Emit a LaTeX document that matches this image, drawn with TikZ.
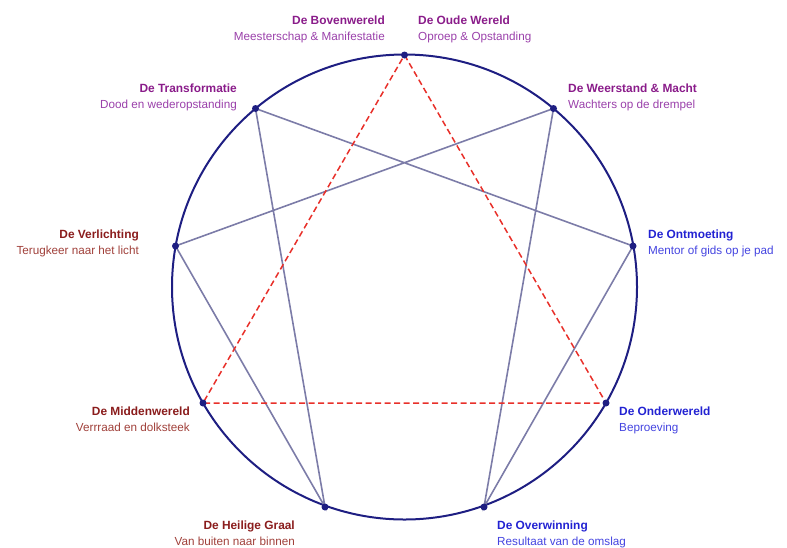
\documentclass[tikz,border=0pt]{standalone}
\usepackage{fontspec}
\setmainfont{Liberation Sans}
\definecolor{navy}{HTML}{1E1E82}
\definecolor{linec}{HTML}{7C7CA8}
\definecolor{dashc}{HTML}{E8302A}
\definecolor{purT}{HTML}{8A1C8A}
\definecolor{purS}{HTML}{9A40AA}
\definecolor{redT}{HTML}{8A1C1C}
\definecolor{redS}{HTML}{A0403A}
\definecolor{bluT}{HTML}{2222D2}
\definecolor{bluS}{HTML}{4444E0}
\begin{document}
\begin{tikzpicture}[x=1pt,y=-1pt,
  ttl/.style={font=\fontsize{11.9}{14}\selectfont\bfseries, inner sep=0pt},
  sbt/.style={font=\fontsize{11.7}{14}\selectfont, inner sep=0pt},
  pt/.style={circle, fill=navy, inner sep=0pt, minimum size=7pt},
  conn/.style={draw=linec, line width=1.6pt},
  tri/.style={draw=dashc, line width=1.5pt, dash pattern=on 6pt off 3.5pt}]
\useasboundingbox (0,0) rectangle (787,547);
\node[circle, draw=navy, line width=2pt, minimum size=465pt, inner sep=0pt] (ring) at (404.5,287) {};
% points
\coordinate (c9) at (404.5,55);
\coordinate (c1) at (553.5,108.5);
\coordinate (c2) at (633,246);
\coordinate (c3) at (606,403);
\coordinate (c4) at (484,507);
\coordinate (c5) at (325,507);
\coordinate (c6) at (203,403);
\coordinate (c7) at (175.5,246);
\coordinate (c8) at (255.5,108.5);
% connectors
\draw[conn] (c1) -- (c4) -- (c2) -- (c8) -- (c5) -- (c7) -- (c1);
\draw[tri] (c9) -- (c3) -- (c6) -- cycle;
\foreach \i in {1,...,9} \node[pt] (p\i) at (c\i) {};
% labels
\node[ttl, text=purT, anchor=base east] (t9a) at (385,24) {De Bovenwereld};
\node[sbt, text=purS, anchor=base east] (s9a) at (385,40) {Meesterschap \& Manifestatie};
\node[ttl, text=purT, anchor=base west] (t9b) at (418,24) {De Oude Wereld};
\node[sbt, text=purS, anchor=base west] (s9b) at (418,40) {Oproep \& Opstanding};
\node[ttl, text=purT, anchor=base east] (t8) at (237,92) {De Transformatie};
\node[sbt, text=purS, anchor=base east] (s8) at (237,108) {Dood en wederopstanding};
\node[ttl, text=purT, anchor=base west] (t1) at (568,92) {De Weerstand \& Macht};
\node[sbt, text=purS, anchor=base west] (s1) at (568,108) {Wachters op de drempel};
\node[ttl, text=redT, anchor=base east] (t7) at (139,238) {De Verlichting};
\node[sbt, text=redS, anchor=base east] (s7) at (139,254) {Terugkeer naar het licht};
\node[ttl, text=bluT, anchor=base west] (t2) at (648,238) {De Ontmoeting};
\node[sbt, text=bluS, anchor=base west] (s2) at (648,254) {Mentor of gids op je pad};
\node[ttl, text=redT, anchor=base east] (t6) at (190,415) {De Middenwereld};
\node[sbt, text=redS, anchor=base east] (s6) at (190,431) {Verrraad en dolksteek};
\node[ttl, text=bluT, anchor=base west] (t3) at (619,415) {De Onderwereld};
\node[sbt, text=bluS, anchor=base west] (s3) at (619,431) {Beproeving};
\node[ttl, text=redT, anchor=base east] (t5) at (295,529) {De Heilige Graal};
\node[sbt, text=redS, anchor=base east] (s5) at (295,545) {Van buiten naar binnen};
\node[ttl, text=bluT, anchor=base west] (t4) at (497,529) {De Overwinning};
\node[sbt, text=bluS, anchor=base west] (s4) at (497,545) {Resultaat van de omslag};
\end{tikzpicture}
\end{document}
